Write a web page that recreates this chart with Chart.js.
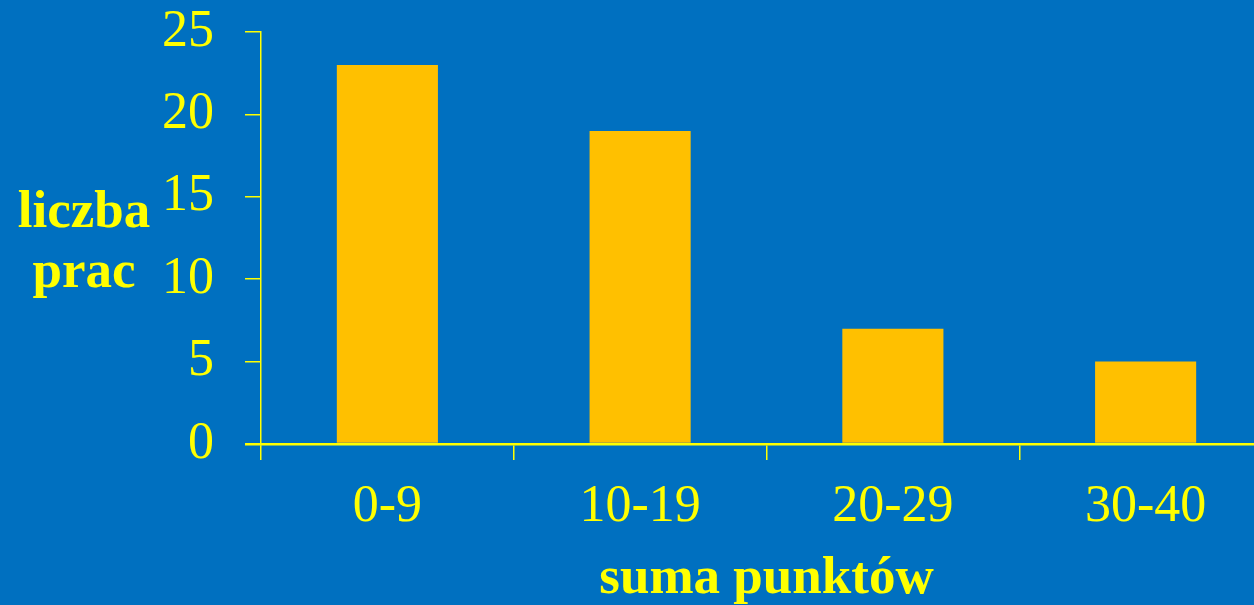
<!DOCTYPE html>
<html>
<head>
<meta charset="utf-8">
<script src="https://cdn.jsdelivr.net/npm/chart.js@4"></script>
<style>
  html, body { margin: 0; padding: 0; background: #0070C0; overflow: hidden; }
  #wrap { position: relative; width: 1290px; height: 605px; }
</style>
</head>
<body>
<div id="wrap"><canvas id="c"></canvas></div>
<script>
const categories = ['0-9', '10-19', '20-29', '30-40'];
const counts = [23, 19, 7, 5];
const yTicks = [0, 5, 10, 15, 20, 25];
const yTitleLines = ['liczba', 'prac'];
const xTitle = 'suma punktów';

const YELLOW = '#FFFF00';
const BAR = '#FFC000';
const FONT = "'Liberation Serif', 'Times New Roman', serif";

const titlesPlugin = {
  id: 'titles',
  afterDraw(chart) {
    const ctx = chart.ctx;
    const ca = chart.chartArea;
    ctx.save();
    ctx.fillStyle = YELLOW;
    ctx.font = 'bold 53px ' + FONT;
    ctx.textAlign = 'center';
    ctx.textBaseline = 'alphabetic';
    ctx.fillText(yTitleLines[0], 84, 227);
    ctx.fillText(yTitleLines[1], 84, 287);
    ctx.fillText(xTitle, (ca.left + ca.right) / 2, 593);
    ctx.restore();
  }
};

new Chart(document.getElementById('c'), {
  type: 'bar',
  data: {
    labels: categories,
    datasets: [{
      data: counts,
      backgroundColor: BAR,
      borderWidth: 0,
      barPercentage: 0.4,
      categoryPercentage: 1.0
    }]
  },
  options: {
    responsive: true,
    maintainAspectRatio: false,
    animation: false,
    devicePixelRatio: 1,
    layout: { padding: { top: 32, right: 18, bottom: 0, left: 0 } },
    plugins: { legend: { display: false }, tooltip: { enabled: false } },
    scales: {
      x: {
        type: 'category',
        offset: true,
        afterFit(s) { s.height = 161; s.paddingLeft = 0; s.paddingRight = 0; },
        grid: {
          offset: true,
          drawOnChartArea: false,
          drawTicks: true,
          tickLength: 16,
          color: YELLOW,
          lineWidth: 1.5
        },
        border: { display: true, color: YELLOW, width: 2.5 },
        ticks: {
          color: YELLOW,
          font: { family: FONT, size: 52 },
          padding: 16,
          maxRotation: 0
        }
      },
      y: {
        min: 0,
        max: 25,
        afterFit(s) { s.width = 261; s.paddingTop = 0; s.paddingBottom = 0; },
        afterBuildTicks(s) { s.ticks = yTicks.map(v => ({ value: v })); },
        grid: {
          drawOnChartArea: false,
          drawTicks: true,
          tickLength: 16,
          color: YELLOW,
          lineWidth: (c) => (c.tick && c.tick.value === 0 ? 2.5 : 1.5)
        },
        border: { display: true, color: YELLOW, width: 1.5 },
        ticks: {
          color: YELLOW,
          font: { family: FONT, size: 52 },
          padding: 31,
          stepSize: 5
        }
      }
    }
  },
  plugins: [titlesPlugin]
});
</script>
</body>
</html>
